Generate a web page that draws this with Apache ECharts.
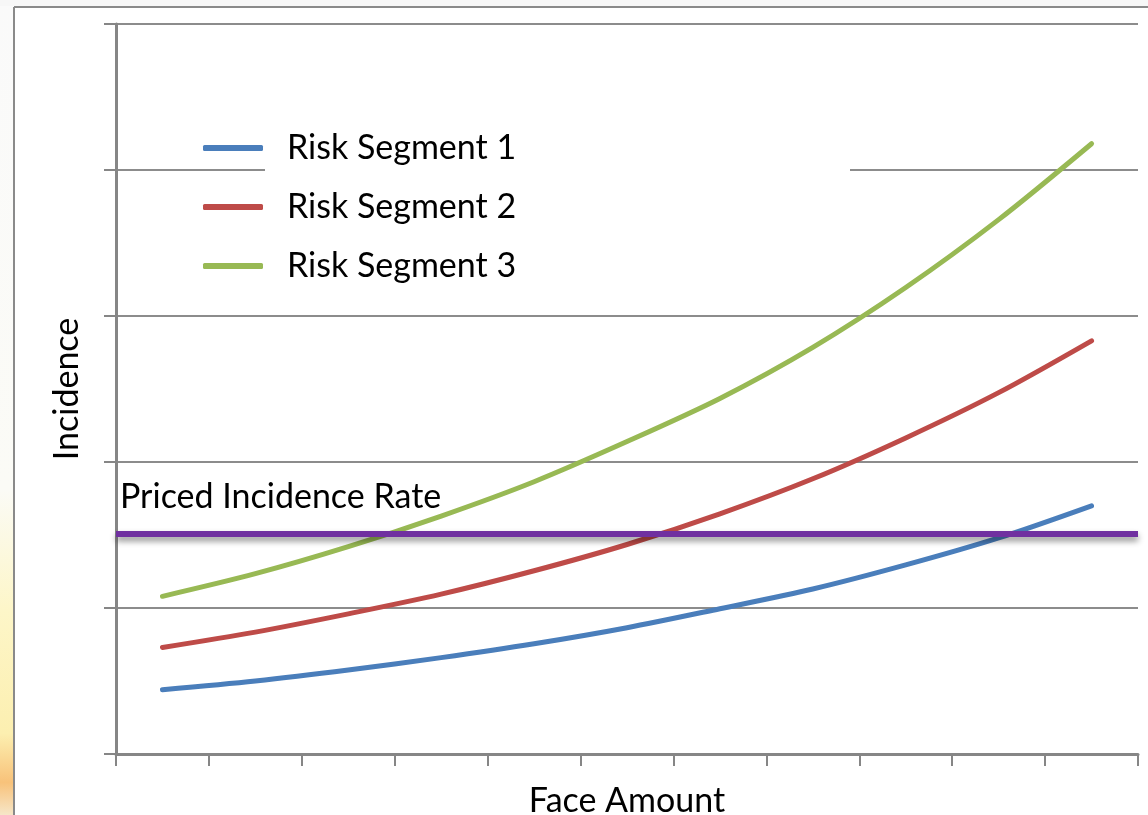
<!DOCTYPE html>
<html><head><meta charset="utf-8">
<script src="https://cdn.jsdelivr.net/npm/echarts@6/dist/echarts.min.js"></script>
<style>html,body{margin:0;padding:0;background:#fff}#c{width:1148px;height:815px}</style>
</head><body><div id="c"></div>
<script>
const categories = ['1','2','3','4','5','6','7','8','9','10','11'];
const segment1 = [0.44, 0.50, 0.575, 0.66, 0.755, 0.865, 0.995, 1.13, 1.295, 1.48, 1.70];
const segment2 = [0.73, 0.835, 0.96, 1.095, 1.255, 1.435, 1.645, 1.885, 2.165, 2.475, 2.83];
const segment3 = [1.08, 1.235, 1.42, 1.63, 1.865, 2.14, 2.435, 2.785, 3.195, 3.66, 4.18];
const pricedRate = 1.514;
const seriesNames = ['Risk Segment 1','Risk Segment 2','Risk Segment 3'];
const colors = ['#4A7EBB','#BE4B48','#98B954'];
const FONT = 'Lato';

const chart = echarts.init(document.getElementById('c'), null, {renderer:'canvas'});
const mk = (name, data, color, extra) => Object.assign({
  name, type:'line', data, smooth:0.3, symbol:'none', color,
  lineStyle:{width:5, color, cap:'round', join:'round'}, z:3
}, extra || {});

chart.setOption({
  animation:false,
  backgroundColor:'#ffffff',
  textStyle:{fontFamily:FONT},
  graphic:[
    {type:'rect', shape:{x:0,y:0,width:14,height:815}, z:-10,
     style:{fill:new echarts.graphic.LinearGradient(0,0,0,1,[
       {offset:0,color:'#fafafa'},{offset:0.6,color:'#fbfbf6'},{offset:0.75,color:'#fdf6c8'},
       {offset:0.9,color:'#fcefb0'},{offset:0.96,color:'#f8c27a'},{offset:1,color:'#f6e6c8'}])}},
    {type:'rect', shape:{x:0,y:0,width:1148,height:6}, z:-10, style:{fill:'#f7f7f7'}},
    {type:'line', shape:{x1:14,y1:7,x2:1148,y2:7}, style:{stroke:'#8a8a8a',lineWidth:2}, z:-5},
    {type:'line', shape:{x1:14,y1:7,x2:14,y2:815}, style:{stroke:'#8a8a8a',lineWidth:2}, z:-5},
    {type:'rect', shape:{x:265,y:166,width:585,height:8}, style:{fill:'#ffffff'}, z:50}
  ],
  grid:{left:116, right:10, top:24, bottom:61, containLabel:false, outerBoundsMode:'none'},
  legend:{
    data:seriesNames, orient:'vertical', left:198, top:124,
    itemWidth:60, itemHeight:6, itemGap:21, icon:'roundRect',
    textStyle:{fontFamily:FONT, fontSize:34, color:'#000', lineHeight:38, padding:[0,0,0,19]},
    z:60
  },
  xAxis:{
    type:'category', data:categories, boundaryGap:true,
    name:'Face Amount', nameLocation:'middle', nameGap:30,
    nameTextStyle:{fontFamily:FONT, fontSize:34, color:'#000'},
    axisLine:{lineStyle:{color:'#868686', width:3}},
    axisTick:{show:true, length:12, alignWithLabel:false, lineStyle:{color:'#868686', width:2}},
    axisLabel:{show:false}, splitLine:{show:false}
  },
  yAxis:{
    type:'value', min:0, max:5, interval:1,
    name:'Incidence', nameLocation:'middle', nameGap:32,
    nameTextStyle:{fontFamily:FONT, fontSize:34, color:'#000'},
    axisLine:{show:true, lineStyle:{color:'#868686', width:3}},
    axisTick:{show:true, length:12, lineStyle:{color:'#868686', width:2}},
    axisLabel:{show:false},
    splitLine:{show:true, lineStyle:{color:'#8c8c8c', width:2}}
  },
  series:[
    mk(seriesNames[0], segment1, colors[0], {
      markLine:{
        silent:true, symbol:['none','none'], z:5,
        lineStyle:{color:'#7030A0', width:6, type:'solid',
          shadowColor:'rgba(0,0,0,0.45)', shadowBlur:6, shadowOffsetY:4},
        label:{show:true, position:'insideStartTop', formatter:'Priced Incidence Rate',
          fontFamily:FONT, fontSize:34, color:'#000', distance:[4,20]},
        data:[{yAxis:pricedRate}]
      }
    }),
    mk(seriesNames[1], segment2, colors[1]),
    mk(seriesNames[2], segment3, colors[2])
  ]
});
</script></body></html>
